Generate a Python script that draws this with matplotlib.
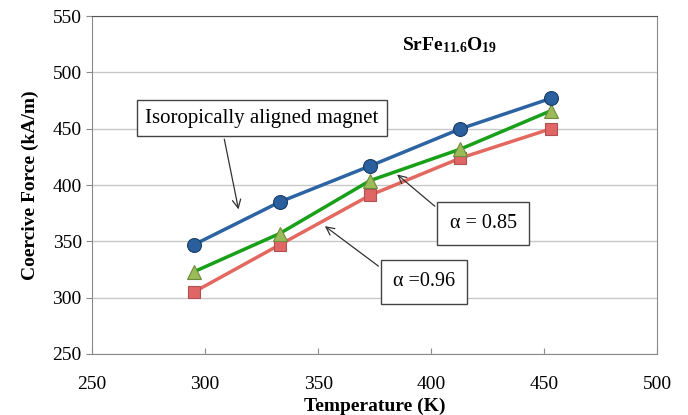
import matplotlib.pyplot as plt

temps = [295, 333, 373, 413, 453]
iso = [347, 385, 417, 450, 477]
a085 = [323, 357, 404, 432, 466]
a096 = [305, 347, 391, 424, 450]

plt.rcParams['font.family'] = ['Liberation Serif', 'DejaVu Serif']
plt.rcParams['mathtext.fontset'] = 'custom'
plt.rcParams['mathtext.rm'] = 'Liberation Serif'
plt.rcParams['mathtext.bf'] = 'Liberation Serif:bold'

fig = plt.figure(figsize=(6.88, 4.15), dpi=100)
ax = fig.add_axes([0.134, 0.147, 0.821, 0.814])

ax.plot(temps, a096, color='#E3685F', lw=2.5, marker='s', ms=8,
        mfc='#E06666', mec='#B05050', mew=0.8, zorder=3)
ax.plot(temps, a085, color='#18A018', lw=2.5, marker='^', ms=10,
        mfc='#9BBB59', mec='#6E8B3D', mew=0.8, zorder=4)
ax.plot(temps, iso, color='#2B63A3', lw=2.5, marker='o', ms=10,
        mfc='#2A5F9E', mec='#1A3C66', mew=0.8, zorder=5)

ax.set_xlim(250, 500)
ax.set_ylim(250, 550)
ax.set_xticks([250, 300, 350, 400, 450, 500])
ax.set_yticks([250, 300, 350, 400, 450, 500, 550])
ax.yaxis.grid(True, color='#c8c8c8', lw=1)
ax.set_axisbelow(True)
for s in ax.spines.values():
    s.set_color('#8a8a8a')
ax.spines['top'].set_color('#555555')
ax.tick_params(axis='x', direction='in', length=4, color='#8a8a8a', labelsize=14, pad=16)
ax.tick_params(axis='y', direction='out', length=4, color='#8a8a8a', labelsize=14)

ax.set_xlabel('Temperature (K)', fontsize=14, fontweight='bold', labelpad=3)
ax.set_ylabel('Coercive Force (kA/m)', fontsize=14, fontweight='bold', labelpad=10)

ax.text(408, 524, r'$\mathbf{SrFe_{11.6}O_{19}}$', fontsize=14,
        ha='center', va='center')

ax.annotate('Isoropically aligned magnet', xy=(315, 376), xytext=(325, 459.5),
            fontsize=15, ha='center', va='center',
            bbox=dict(boxstyle='square,pad=0.4', fc='white', ec='#444444', lw=1),
            arrowprops=dict(arrowstyle='->', color='#333333', lw=0.9,
                            relpos=(0.33, 0.0)))
ax.annotate('α = 0.85', xy=(384, 411), xytext=(423, 366),
            fontsize=14.5, ha='center', va='center',
            bbox=dict(boxstyle='square,pad=0.6', fc='white', ec='#444444', lw=1),
            arrowprops=dict(arrowstyle='->', color='#333333', lw=0.9,
                            relpos=(0.0, 0.75)))
ax.annotate('α =0.96', xy=(352, 365), xytext=(397, 314),
            fontsize=14.5, ha='center', va='center',
            bbox=dict(boxstyle='square,pad=0.6', fc='white', ec='#444444', lw=1),
            arrowprops=dict(arrowstyle='->', color='#333333', lw=0.9,
                            relpos=(0.0, 0.75)))

fig.savefig('out.png', dpi=100)
